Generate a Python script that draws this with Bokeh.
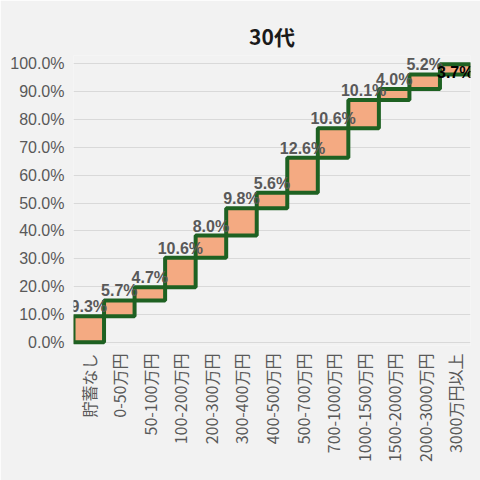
import numpy as np
from bokeh.plotting import figure
from bokeh.models import ColumnDataSource, FactorRange, FixedTicker, NumeralTickFormatter, Range1d, LabelSet
from bokeh.core.properties import value
from bokeh.embed import file_html
from bokeh.resources import INLINE

categories = ["貯蓄なし", "0-50万円", "50-100万円", "100-200万円", "200-300万円", "300-400万円",
              "400-500万円", "500-700万円", "700-1000万円", "1000-1500万円", "1500-2000万円",
              "2000-3000万円", "3000万円以上"]
shares = [9.3, 5.7, 4.7, 10.6, 8.0, 9.8, 5.6, 12.6, 10.6, 10.1, 4.0, 5.2, 3.7]
y_ticks = [0.0, 0.1, 0.2, 0.3, 0.4, 0.5, 0.6, 0.7, 0.8, 0.9, 1.0]
title_text = "30代"

vals = np.array(shares) / 100.0
tops = np.cumsum(vals)
bottoms = tops - vals
labels = [f"{s:.1f}%" for s in shares]

src = ColumnDataSource(dict(cat=categories, top=tops, bottom=bottoms))
src_main = ColumnDataSource(dict(cat=categories[:-1], top=list(tops[:-1]), label=labels[:-1]))
src_last = ColumnDataSource(dict(cat=categories[-1:], mid=[(tops[-1] + bottoms[-1]) / 2], label=labels[-1:]))

BG = "#f2f2f2"
p = figure(width=480, height=480, output_backend="svg", toolbar_location=None,
           x_range=FactorRange(factors=categories), y_range=Range1d(-0.012, 1.03),
           background_fill_color=BG, border_fill_color=BG, outline_line_color=None,
           min_border_left=73, min_border_right=10, min_border_top=55, min_border_bottom=135)

p.title.text = title_text
p.title.align = "center"
p.title.text_font = "Noto Sans CJK JP"
p.title.text_font_size = "21px"
p.title.text_font_style = "bold"
p.title.text_color = "#1a1a1a"
p.title.text_line_height = 0.7

p.vbar(x="cat", top="top", bottom="bottom", width=1.0, source=src,
       fill_color="#F4AA82", line_color="#1E6122", line_width=4)

p.add_layout(LabelSet(x="cat", y="top", text="label", source=src_main, text_align="center",
                      text_baseline="bottom", text_font=value("Liberation Sans"), text_font_size="16px",
                      text_font_style="bold", text_color="#595959", y_offset=1))
p.add_layout(LabelSet(x="cat", y="mid", text="label", source=src_last, text_align="center",
                      text_baseline="middle", text_font=value("Liberation Sans"), text_font_size="16px",
                      text_font_style="bold", text_color="#000000", y_offset=-3))

p.yaxis.ticker = FixedTicker(ticks=y_ticks)
p.yaxis.formatter = NumeralTickFormatter(format="0.0%")
p.yaxis.axis_line_color = None
p.yaxis.major_tick_line_color = None
p.yaxis.minor_tick_line_color = None
p.yaxis.major_tick_out = 0
p.yaxis.major_label_standoff = 9
p.yaxis.major_label_text_font = "Liberation Sans"
p.yaxis.major_label_text_font_size = "16px"
p.yaxis.major_label_text_color = "#595959"

p.xaxis.axis_line_color = None
p.xaxis.major_tick_line_color = None
p.xaxis.major_tick_out = 0
p.xaxis.major_label_standoff = 8
p.xaxis.major_label_orientation = np.pi / 2
p.xaxis.major_label_text_font = "Noto Sans CJK JP"
p.xaxis.major_label_text_font_size = "16px"
p.xaxis.major_label_text_color = "#595959"

p.xgrid.grid_line_color = None
p.ygrid.ticker = FixedTicker(ticks=y_ticks)
p.ygrid.grid_line_color = "#d9d9d9"
p.ygrid.level = "underlay"

open("out.html", "w").write(file_html(p, INLINE))
